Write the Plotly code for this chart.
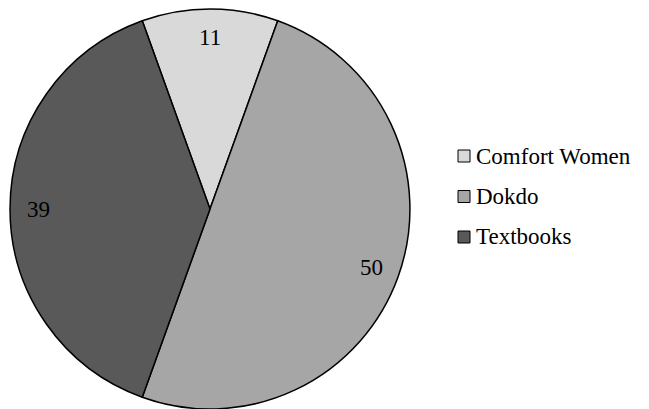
import math
import plotly.graph_objects as go

labels = ["Comfort Women", "Dokdo", "Textbooks"]
values = [11, 50, 39]
colors = ["#d9d9d9", "#a6a6a6", "#595959"]

W, H = 649, 409
cx, cy, r = 210, 209, 200
start = -values[0] / sum(values) * 180  # first slice centred at top

fig = go.Figure(go.Pie(
    labels=labels, values=values, sort=False, direction="clockwise",
    rotation=start, textinfo="none", hoverinfo="label+value",
    marker=dict(colors=colors, line=dict(color="black", width=1.5)),
    domain=dict(x=[(cx - r) / W, (cx + r) / W], y=[(H - cy - r) / H, (H - cy + r) / H]),
    showlegend=False,
))

# value labels near the outer edge
total = sum(values)
acc = 0
for v in values:
    mid = (start + (acc + v / 2) / total * 360) * math.pi / 180
    acc += v
    px_ = cx + 0.86 * r * math.sin(mid)
    py_ = cy - 0.86 * r * math.cos(mid)
    fig.add_annotation(x=px_ / W, y=1 - py_ / H, xref="paper", yref="paper",
                       xanchor="center", yanchor="middle",
                       text=str(v), showarrow=False,
                       font=dict(family="Liberation Serif", size=23, color="black"))

# legend
for i, (lab, col) in enumerate(zip(labels, colors)):
    ly = 156 + i * 40.5
    fig.add_shape(type="rect", xref="paper", yref="paper",
                  x0=458 / W, x1=470 / W, y0=1 - (ly + 6) / H, y1=1 - (ly - 6) / H,
                  fillcolor=col, line=dict(color="black", width=1))
    fig.add_annotation(x=474 / W, y=1 - ly / H, xref="paper", yref="paper",
                       text=lab, showarrow=False, xanchor="left", yanchor="middle",
                       font=dict(family="Liberation Serif", size=23, color="black"))

fig.update_layout(width=W, height=H, margin=dict(l=0, r=0, t=0, b=0),
                  paper_bgcolor="white", plot_bgcolor="white")
fig.write_html("out.html", config={"displayModeBar": False},
               post_script="document.body.style.margin='0';")
